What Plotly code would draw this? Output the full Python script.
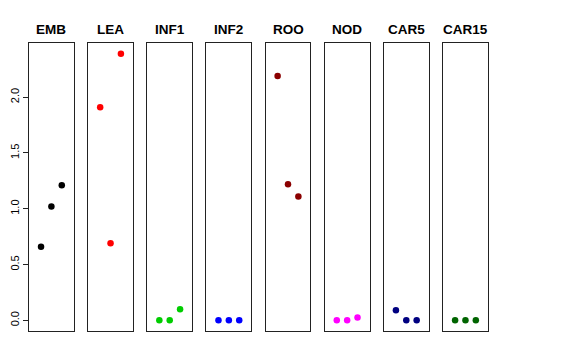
import plotly.graph_objects as go

panels = ["EMB", "LEA", "INF1", "INF2", "ROO", "NOD", "CAR5", "CAR15"]
x_idx = [1, 2, 3]
values = {
    "EMB": [0.66, 1.02, 1.21],
    "LEA": [1.91, 0.69, 2.39],
    "INF1": [0.0, 0.0, 0.10],
    "INF2": [0.0, 0.0, 0.0],
    "ROO": [2.19, 1.22, 1.11],
    "NOD": [0.0, 0.0, 0.025],
    "CAR5": [0.09, 0.0, 0.0],
    "CAR15": [0.0, 0.0, 0.0],
}
colors = ["#000000", "#FF0000", "#00CD00", "#0000FF", "#8B0000", "#FF00FF", "#000080", "#006400"]
y_ticks = [0.0, 0.5, 1.0, 1.5, 2.0]

W, H = 576, 360
left0, pw, pitch = 29.0, 44.8, 59.15
top_px, bot_px = 43.0, 331.0
ymin, ymax = 0.0, 2.39
pad = (ymax - ymin) * 0.04

fig = go.Figure()
for i, name in enumerate(panels):
    n = "" if i == 0 else str(i + 1)
    x0 = left0 + i * pitch
    x1 = x0 + pw
    fig.add_trace(go.Scatter(
        x=x_idx, y=values[name], mode="markers",
        marker=dict(color=colors[i], size=6.5, line=dict(width=0)),
        xaxis="x" + n, yaxis="y" + n, showlegend=False, hoverinfo="skip"))
    fig.layout["xaxis" + n] = dict(
        domain=[x0 / W, x1 / W], range=[-0.16, 4.16], showticklabels=False,
        ticks="", showgrid=False, zeroline=False, showline=True, mirror=True,
        linecolor="#222222", linewidth=1, anchor="y" + n, fixedrange=True,
        automargin=False)
    yax = dict(
        domain=[1 - bot_px / H, 1 - top_px / H], range=[ymin - pad, ymax + pad],
        showgrid=False, zeroline=False, showline=True, mirror=True,
        linecolor="#222222", linewidth=1, anchor="x" + n, fixedrange=True,
        automargin=False)
    if i == 0:
        yax.update(tickvals=y_ticks, ticktext=[f"{v:.1f}" for v in y_ticks],
                   ticks="outside", ticklen=5, tickcolor="#222222", tickangle=-90,
                   tickfont=dict(size=11, color="#000000"))
    else:
        yax.update(showticklabels=False, ticks="")
    fig.layout["yaxis" + n] = yax
    fig.add_annotation(
        x=(x0 + x1) / 2 / W, y=1 - 29 / H, xref="paper", yref="paper",
        text="<b>" + name + "</b>", showarrow=False,
        font=dict(size=13.5, color="#000000"), xanchor="center", yanchor="middle")

fig.update_layout(
    width=W, height=H, margin=dict(l=0, r=0, t=0, b=0, autoexpand=False),
    paper_bgcolor="white", plot_bgcolor="white",
    font=dict(family="Liberation Sans, Arial, Helvetica, sans-serif"))
fig.write_html("out.html", config={"displayModeBar": False, "staticPlot": True},
               post_script="document.body.style.margin='0';document.body.style.padding='0';")
